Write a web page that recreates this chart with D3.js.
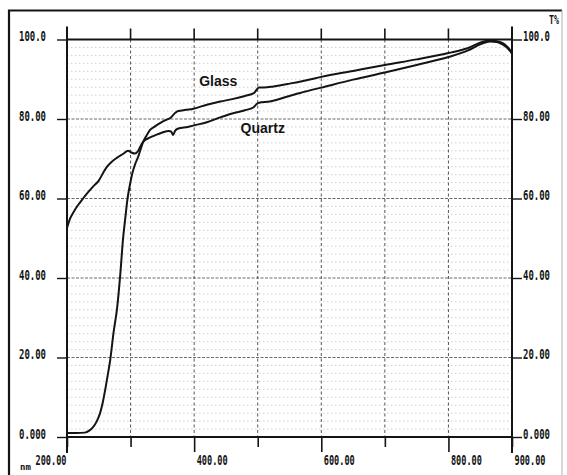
<!DOCTYPE html>
<html>
<head>
<meta charset="utf-8">
<script src="https://cdn.jsdelivr.net/npm/d3@7"></script>
<style>
  html, body { margin: 0; padding: 0; background: #fff; }
  svg { display: block; }
</style>
</head>
<body>
<svg id="chart"></svg>
<script>
// wavelength (nm) and transmittance (%)
const glassNm = [200, 215, 228, 235, 241, 247, 252, 256, 260, 264, 268, 273, 279, 284, 288, 292, 295, 299, 303, 308, 312, 316, 320, 325, 331, 339, 347, 355, 363, 370, 375, 387, 399, 420, 441, 460, 480, 494, 498, 502, 510, 525, 550, 575, 600, 650, 700, 750, 800, 830, 852, 865, 873, 882, 889, 895, 900];
const glassT  = [1.0, 1.0, 1.1, 1.6, 2.5, 4.0, 6.0, 8.5, 11.8, 15.5, 19.4, 26.0, 32.7, 41.3, 49.6, 55.5, 59.7, 63.5, 66.5, 69.0, 70.5, 72.5, 74.3, 75.8, 77.3, 78.2, 79.0, 79.7, 80.3, 81.5, 82.0, 82.3, 82.6, 83.6, 84.4, 85.0, 85.8, 86.5, 87.3, 87.9, 87.9, 88.2, 88.9, 89.7, 90.6, 92.1, 93.6, 95.0, 96.6, 97.8, 99.3, 99.8, 99.7, 99.3, 98.7, 97.8, 96.5];

const quartzNm = [200, 205, 210, 215, 220, 230, 241, 250, 257, 263, 270, 279, 288, 296, 302, 307, 312, 316, 320, 330, 340, 350, 360, 364, 367, 370, 375, 390, 400, 420, 441, 460, 480, 493, 498, 502, 519, 550, 575, 600, 650, 700, 750, 800, 830, 852, 865, 876, 885, 892, 900];
const quartzT  = [52.6, 55.0, 56.5, 57.8, 58.9, 61.0, 63.0, 64.5, 66.5, 68.0, 69.2, 70.3, 71.2, 72.0, 71.5, 71.3, 72.0, 73.3, 74.3, 75.3, 76.0, 76.6, 77.0, 76.8, 76.0, 77.0, 77.6, 78.0, 78.4, 79.2, 80.4, 81.4, 82.2, 82.9, 83.7, 84.1, 84.4, 85.8, 86.9, 87.9, 89.9, 91.7, 93.6, 95.6, 97.2, 98.9, 99.5, 99.4, 98.8, 98.0, 96.5];

const yTicks = [0, 20, 40, 60, 80, 100];
const yTickLabels = ["0.000", "20.00", "40.00", "60.00", "80.00", "100.0"];
const xTicks = [200, 300, 400, 500, 600, 700, 800, 900];
const xLabelled = [200, 400, 600, 800, 900];
const xTickLabels = ["200.00", "400.00", "600.00", "800.00", "900.00"];

const width = 567;
const height = 475;
const margin = { top: 39.5, right: 55, bottom: 38, left: 67 };

const svg = d3.select("#chart")
  .attr("width", width)
  .attr("height", height);

svg.append("rect")
  .attr("width", width)
  .attr("height", height)
  .attr("fill", "#fff");

const x = d3.scaleLinear()
  .domain([200, 900])
  .range([margin.left, width - margin.right]);

const y = d3.scaleLinear()
  .domain([0, 100])
  .range([height - margin.bottom, margin.top]);

const monoFont = "'DejaVu Sans Mono', 'Liberation Mono', monospace";
const ink = "#141414";

// outer frame of the printout
svg.append("path")
  .attr("d", `M9,${height + 5} V10.5 H562`)
  .attr("fill", "none")
  .attr("stroke", ink)
  .attr("stroke-width", 2.2);
svg.append("line")
  .attr("x1", 562).attr("x2", 562)
  .attr("y1", 10).attr("y2", height)
  .attr("stroke", "#b0b0b0")
  .attr("stroke-width", 1);

// minor horizontal grid every 2 %
const minor = d3.range(2, 100, 2).filter(v => v % 20 !== 0);
svg.append("g")
  .selectAll("line")
  .data(minor)
  .enter()
  .append("line")
  .attr("x1", x(200)).attr("x2", x(900))
  .attr("y1", d => y(d)).attr("y2", d => y(d))
  .attr("stroke", "#c4c4c4")
  .attr("stroke-width", 0.8)
  .attr("stroke-dasharray", "1.5,2.5");

// major horizontal grid
svg.append("g")
  .selectAll("line")
  .data(yTicks.filter(v => v > 0 && v < 100))
  .enter()
  .append("line")
  .attr("x1", x(200)).attr("x2", x(900))
  .attr("y1", d => y(d)).attr("y2", d => y(d))
  .attr("stroke", "#6a6a6a")
  .attr("stroke-width", 1)
  .attr("stroke-dasharray", "3,1.5");

// vertical grid
const inner = xTicks.filter(v => v > 200 && v < 900);
svg.append("g")
  .selectAll("line")
  .data(inner)
  .enter()
  .append("line")
  .attr("x1", d => x(d)).attr("x2", d => x(d))
  .attr("y1", y(100)).attr("y2", y(0))
  .attr("stroke", "#555")
  .attr("stroke-width", 1)
  .attr("stroke-dasharray", "3,2.5");

// short solid stubs above the top line
svg.append("g")
  .selectAll("line")
  .data(xTicks)
  .enter()
  .append("line")
  .attr("x1", d => x(d)).attr("x2", d => x(d))
  .attr("y1", y(100) - 11).attr("y2", y(100))
  .attr("stroke", ink)
  .attr("stroke-width", 1.6);

// frame lines of the plot: 0 % and 100 %
[0, 100].forEach(v => {
  svg.append("line")
    .attr("x1", x(200)).attr("x2", x(900))
    .attr("y1", y(v)).attr("y2", y(v))
    .attr("stroke", ink)
    .attr("stroke-width", 2);
});

// left axis
const leftAxis = d3.axisLeft(y)
  .tickValues(yTicks)
  .tickSize(10)
  .tickPadding(11)
  .tickFormat((d, i) => yTickLabels[i]);

const gLeft = svg.append("g")
  .attr("transform", `translate(${x(200)},0)`)
  .call(leftAxis);
gLeft.select(".domain").remove();

// right axis
const rightAxis = d3.axisRight(y)
  .tickValues(yTicks)
  .tickSize(10)
  .tickPadding(1)
  .tickFormat((d, i) => yTickLabels[i]);

const gRight = svg.append("g")
  .attr("transform", `translate(${x(900)},0)`)
  .call(rightAxis);
gRight.select(".domain").remove();

[gLeft, gRight].forEach(g => {
  g.selectAll(".tick line").attr("stroke", ink).attr("stroke-width", 1.4);
  g.selectAll(".tick text")
    .attr("dy", "0.08em")
    .attr("fill", ink)
    .attr("font-family", monoFont)
    .attr("font-weight", "bold")
    .attr("font-size", 14)
    .attr("textLength", 27)
    .attr("lengthAdjust", "spacingAndGlyphs");
});

// vertical axis lines, running past the plot
[200, 900].forEach(v => {
  svg.append("line")
    .attr("x1", x(v)).attr("x2", x(v))
    .attr("y1", y(100) - 13).attr("y2", y(0) + 16)
    .attr("stroke", ink)
    .attr("stroke-width", 2);
});

// bottom axis
const bottomAxis = d3.axisBottom(x)
  .tickValues(xTicks)
  .tickSize(10)
  .tickFormat(d => {
    const i = xLabelled.indexOf(d);
    return i < 0 ? "" : xTickLabels[i];
  });

const gBottom = svg.append("g")
  .attr("transform", `translate(0,${y(0)})`)
  .call(bottomAxis);
gBottom.select(".domain").remove();
gBottom.selectAll(".tick line")
  .attr("stroke", ink)
  .attr("stroke-width", 1.6)
  .attr("y2", d => (xLabelled.includes(d) && d !== 200 && d !== 900) ? 15 : 10);
gBottom.selectAll(".tick text")
  .attr("y", 28)
  .attr("dy", 0)
  .attr("x", d => d === 200 ? -1 : 2)
  .attr("text-anchor", d => d === 200 ? "end" : "start")
  .attr("fill", ink)
  .attr("font-family", monoFont)
  .attr("font-weight", "bold")
  .attr("font-size", 14)
  .attr("textLength", 31)
  .attr("lengthAdjust", "spacingAndGlyphs");

// curves
const line = d3.line()
  .x(d => x(d[0]))
  .y(d => y(d[1]))
  .curve(d3.curveMonotoneX);

const glass = glassNm.map((d, i) => [d, glassT[i]]);
const quartz = quartzNm.map((d, i) => [d, quartzT[i]]);

[quartz, glass].forEach(series => {
  svg.append("path")
    .datum(series)
    .attr("d", line)
    .attr("fill", "none")
    .attr("stroke", ink)
    .attr("stroke-width", 2)
    .attr("stroke-linejoin", "round");
});

// curve labels
svg.append("text")
  .attr("x", x(408))
  .attr("y", y(88.3))
  .attr("font-family", "'Liberation Sans', Arial, sans-serif")
  .attr("font-weight", "bold")
  .attr("font-size", 14)
  .attr("fill", ink)
  .text("Glass");

svg.append("text")
  .attr("x", x(473))
  .attr("y", y(76.5))
  .attr("font-family", "'Liberation Sans', Arial, sans-serif")
  .attr("font-weight", "bold")
  .attr("font-size", 14)
  .attr("fill", ink)
  .text("Quartz");

// units
svg.append("text")
  .attr("x", 549)
  .attr("y", 24)
  .attr("font-family", monoFont)
  .attr("font-weight", "bold")
  .attr("font-size", 12)
  .attr("textLength", 10)
  .attr("lengthAdjust", "spacingAndGlyphs")
  .attr("fill", ink)
  .text("T%");

svg.append("text")
  .attr("x", 20)
  .attr("y", 470)
  .attr("font-family", monoFont)
  .attr("font-weight", "bold")
  .attr("font-size", 9)
  .attr("fill", ink)
  .text("nm");
</script>
</body>
</html>
